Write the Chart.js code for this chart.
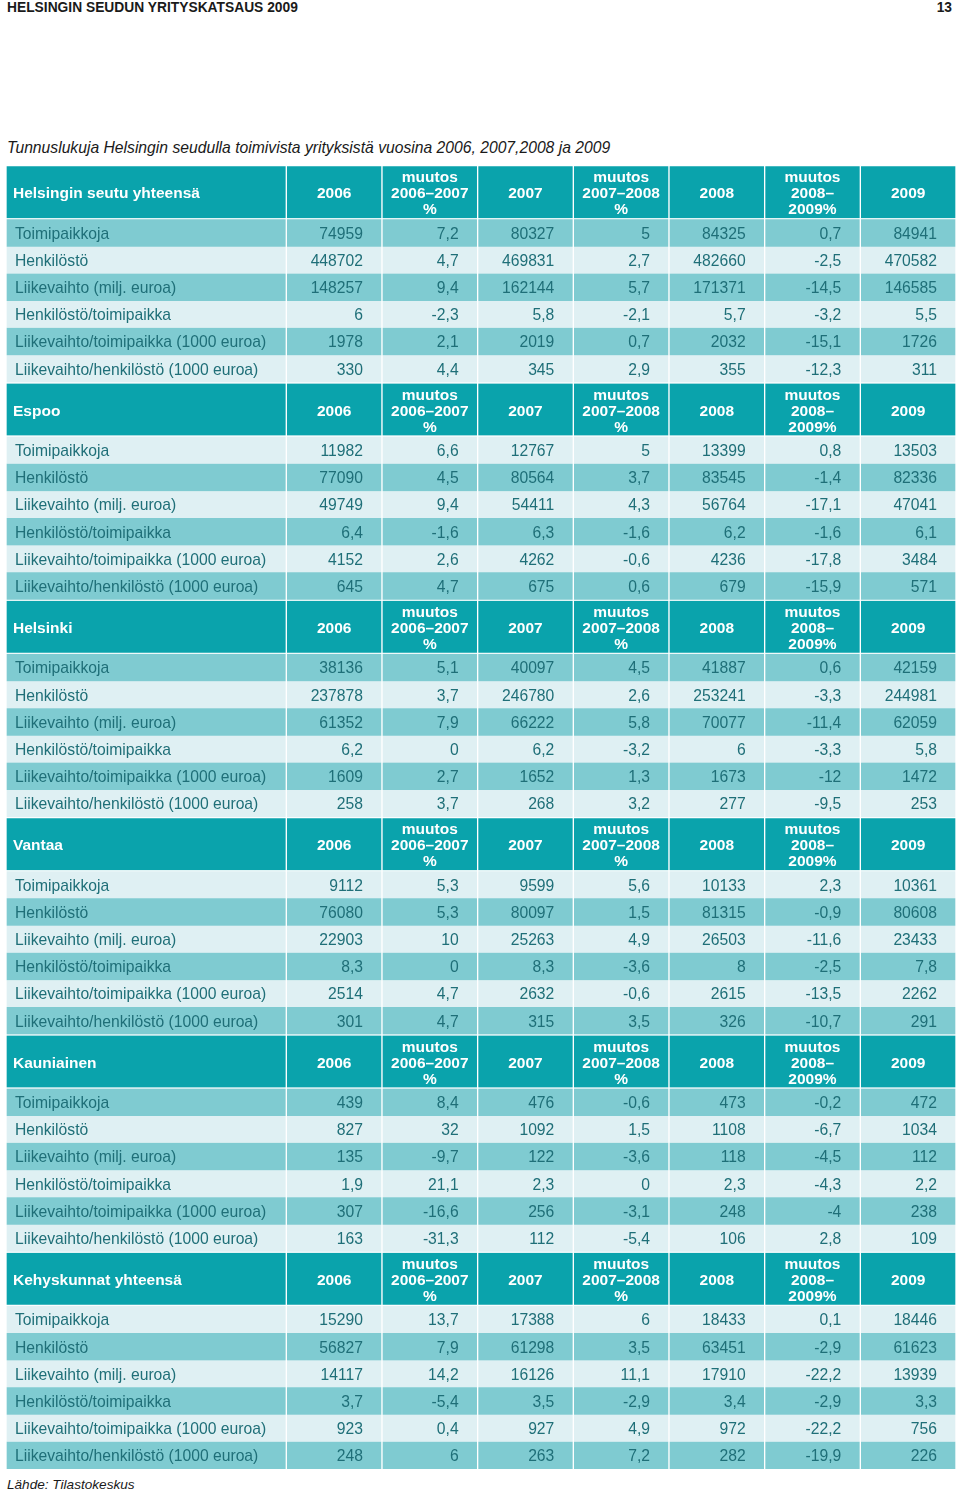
<!DOCTYPE html>
<html lang="fi">
<head>
<meta charset="utf-8">
<title>Tunnuslukuja Helsingin seudulla toimivista yrityksistä</title>
<script src="https://cdn.jsdelivr.net/npm/chart.js@4.4.1/dist/chart.umd.min.js"></script>
<style>
    html, body { margin: 0; padding: 0; background: #fff; }
    body {
        width: 960px; height: 1491px; position: relative; overflow: hidden;
        font-family: "Liberation Sans", Arial, sans-serif; color: #1a1a1a;
    }
    .page-head { position: absolute; top: 0; font-weight: bold; font-size: 13.8px; line-height: 15px; }
    #caption { position: absolute; left: 7px; top: 139px; font-style: italic; font-size: 15.7px; line-height: 18px; }
    #source { position: absolute; left: 7px; top: 1477px; font-style: italic; font-size: 13.6px; line-height: 16px; }
    #tableChart { position: absolute; left: 6px; top: 165px; }
</style>
</head>
<body>
<div class="page-head" style="left:7px">HELSINGIN SEUDUN YRITYSKATSAUS 2009</div>
<div class="page-head" style="right:8px">13</div>
<div id="caption">Tunnuslukuja Helsingin seudulla toimivista yrityksistä vuosina 2006, 2007,2008 ja 2009</div>
<canvas id="tableChart" width="950" height="1304"></canvas>
<div id="source">Lähde: Tilastokeskus</div>

<script>
const regions = ["Helsingin seutu yhteensä", "Espoo", "Helsinki", "Vantaa", "Kauniainen", "Kehyskunnat yhteensä"];

const measures = [
    "Toimipaikkoja",
    "Henkilöstö",
    "Liikevaihto (milj. euroa)",
    "Henkilöstö/toimipaikka",
    "Liikevaihto/toimipaikka (1000 euroa)",
    "Liikevaihto/henkilöstö (1000 euroa)"
];

const columnHeaders = ["2006", "muutos\n2006–2007\n%", "2007", "muutos\n2007–2008\n%", "2008", "muutos\n2008–\n2009%", "2009"];

// 2006, muutos %, 2007, muutos %, 2008, muutos %, 2009
const helsinginSeutu = [
    [74959, 7.2, 80327, 5, 84325, 0.7, 84941],
    [448702, 4.7, 469831, 2.7, 482660, -2.5, 470582],
    [148257, 9.4, 162144, 5.7, 171371, -14.5, 146585],
    [6, -2.3, 5.8, -2.1, 5.7, -3.2, 5.5],
    [1978, 2.1, 2019, 0.7, 2032, -15.1, 1726],
    [330, 4.4, 345, 2.9, 355, -12.3, 311]
];

const espoo = [
    [11982, 6.6, 12767, 5, 13399, 0.8, 13503],
    [77090, 4.5, 80564, 3.7, 83545, -1.4, 82336],
    [49749, 9.4, 54411, 4.3, 56764, -17.1, 47041],
    [6.4, -1.6, 6.3, -1.6, 6.2, -1.6, 6.1],
    [4152, 2.6, 4262, -0.6, 4236, -17.8, 3484],
    [645, 4.7, 675, 0.6, 679, -15.9, 571]
];

const helsinki = [
    [38136, 5.1, 40097, 4.5, 41887, 0.6, 42159],
    [237878, 3.7, 246780, 2.6, 253241, -3.3, 244981],
    [61352, 7.9, 66222, 5.8, 70077, -11.4, 62059],
    [6.2, 0, 6.2, -3.2, 6, -3.3, 5.8],
    [1609, 2.7, 1652, 1.3, 1673, -12, 1472],
    [258, 3.7, 268, 3.2, 277, -9.5, 253]
];

const vantaa = [
    [9112, 5.3, 9599, 5.6, 10133, 2.3, 10361],
    [76080, 5.3, 80097, 1.5, 81315, -0.9, 80608],
    [22903, 10, 25263, 4.9, 26503, -11.6, 23433],
    [8.3, 0, 8.3, -3.6, 8, -2.5, 7.8],
    [2514, 4.7, 2632, -0.6, 2615, -13.5, 2262],
    [301, 4.7, 315, 3.5, 326, -10.7, 291]
];

const kauniainen = [
    [439, 8.4, 476, -0.6, 473, -0.2, 472],
    [827, 32, 1092, 1.5, 1108, -6.7, 1034],
    [135, -9.7, 122, -3.6, 118, -4.5, 112],
    [1.9, 21.1, 2.3, 0, 2.3, -4.3, 2.2],
    [307, -16.6, 256, -3.1, 248, -4, 238],
    [163, -31.3, 112, -5.4, 106, 2.8, 109]
];

const kehyskunnat = [
    [15290, 13.7, 17388, 6, 18433, 0.1, 18446],
    [56827, 7.9, 61298, 3.5, 63451, -2.9, 61623],
    [14117, 14.2, 16126, 11.1, 17910, -22.2, 13939],
    [3.7, -5.4, 3.5, -2.9, 3.4, -2.9, 3.3],
    [923, 0.4, 927, 4.9, 972, -22.2, 756],
    [248, 6, 263, 7.2, 282, -19.9, 226]
];

const regionValues = [helsinginSeutu, espoo, helsinki, vantaa, kauniainen, kehyskunnat];

// layout: first column is wider, header rows take two row units
const COL_WIDTHS = [2.93, 1, 1, 1, 1, 1, 1, 1];
const HEADER_UNITS = 2;
const SECTION_UNITS = HEADER_UNITS + measures.length;

const HEADER_BG = "#0aa3ac";
const DARK_BG = "#7fcbd1";
const LIGHT_BG = "#dff0f3";
const TEXT_COLOR = "#1f6f78";

const colEdges = [0];
COL_WIDTHS.forEach(w => colEdges.push(colEdges[colEdges.length - 1] + w));
const tableWidth = colEdges[colEdges.length - 1];
const tableHeight = regions.length * SECTION_UNITS;

const fmt = v => String(v).replace(".", ",");

const headerCells = [];
const darkCells = [];
const lightCells = [];

regions.forEach((region, s) => {
    const top = s * SECTION_UNITS;
    [region, ...columnHeaders].forEach((text, c) => {
        headerCells.push({ x: [colEdges[c], colEdges[c + 1]], y: top + HEADER_UNITS / 2, text, col: c });
    });
    measures.forEach((measure, r) => {
        const target = (r + s) % 2 === 0 ? darkCells : lightCells;
        [measure, ...regionValues[s][r].map(fmt)].forEach((text, c) => {
            target.push({ x: [colEdges[c], colEdges[c + 1]], y: top + HEADER_UNITS + r + 0.5, text, col: c });
        });
    });
});

const cellStyle = {
    stack: "table",
    borderColor: "#fff",
    borderWidth: { top: 0, bottom: 0, left: 1, right: 1 },
    borderSkipped: false
};

const cellText = {
    id: "cellText",
    afterDatasetsDraw(chart) {
        const ctx = chart.ctx;
        ctx.save();
        chart.data.datasets.forEach((ds, i) => {
            const meta = chart.getDatasetMeta(i);
            meta.data.forEach((bar, j) => {
                const cell = ds.data[j];
                const { x, base, y } = bar.getProps(["x", "base", "y"], true);
                const left = Math.min(x, base);
                const right = Math.max(x, base);
                ctx.textBaseline = "middle";
                if (ds.isHeader) {
                    ctx.fillStyle = "#fff";
                    ctx.font = "bold 15.5px 'Liberation Sans', Arial, sans-serif";
                    const lines = cell.text.split("\n");
                    lines.forEach((line, k) => {
                        const ly = y + (k - (lines.length - 1) / 2) * 16 + 2;
                        if (cell.col === 0) {
                            ctx.textAlign = "left";
                            ctx.fillText(line, left + 7, ly);
                        } else {
                            ctx.textAlign = "center";
                            ctx.fillText(line, (left + right) / 2, ly);
                        }
                    });
                } else {
                    ctx.fillStyle = TEXT_COLOR;
                    ctx.font = "15.7px 'Liberation Sans', Arial, sans-serif";
                    if (cell.col === 0) {
                        ctx.textAlign = "left";
                        ctx.fillText(cell.text, left + 9, y + 1.5);
                    } else {
                        ctx.textAlign = "right";
                        ctx.fillText(cell.text, right - 19, y + 1.5);
                    }
                }
            });
        });
        ctx.restore();
    }
};

new Chart(document.getElementById("tableChart"), {
    type: "bar",
    data: {
        datasets: [
            { ...cellStyle, label: "otsikot", data: headerCells, backgroundColor: HEADER_BG, barThickness: 52, isHeader: true },
            { ...cellStyle, label: "rivit tumma", data: darkCells, backgroundColor: DARK_BG, barThickness: 27.5 },
            { ...cellStyle, label: "rivit vaalea", data: lightCells, backgroundColor: LIGHT_BG, barThickness: 27.5 }
        ]
    },
    options: {
        indexAxis: "y",
        responsive: false,
        animation: false,
        events: [],
        layout: { padding: 0 },
        plugins: {
            legend: { display: false },
            tooltip: { enabled: false }
        },
        scales: {
            x: { type: "linear", min: 0, max: tableWidth, stacked: false, offset: false, display: false },
            y: { type: "linear", min: 0, max: tableHeight, reverse: true, offset: false, display: false }
        }
    },
    plugins: [cellText]
});
</script>
</body>
</html>
